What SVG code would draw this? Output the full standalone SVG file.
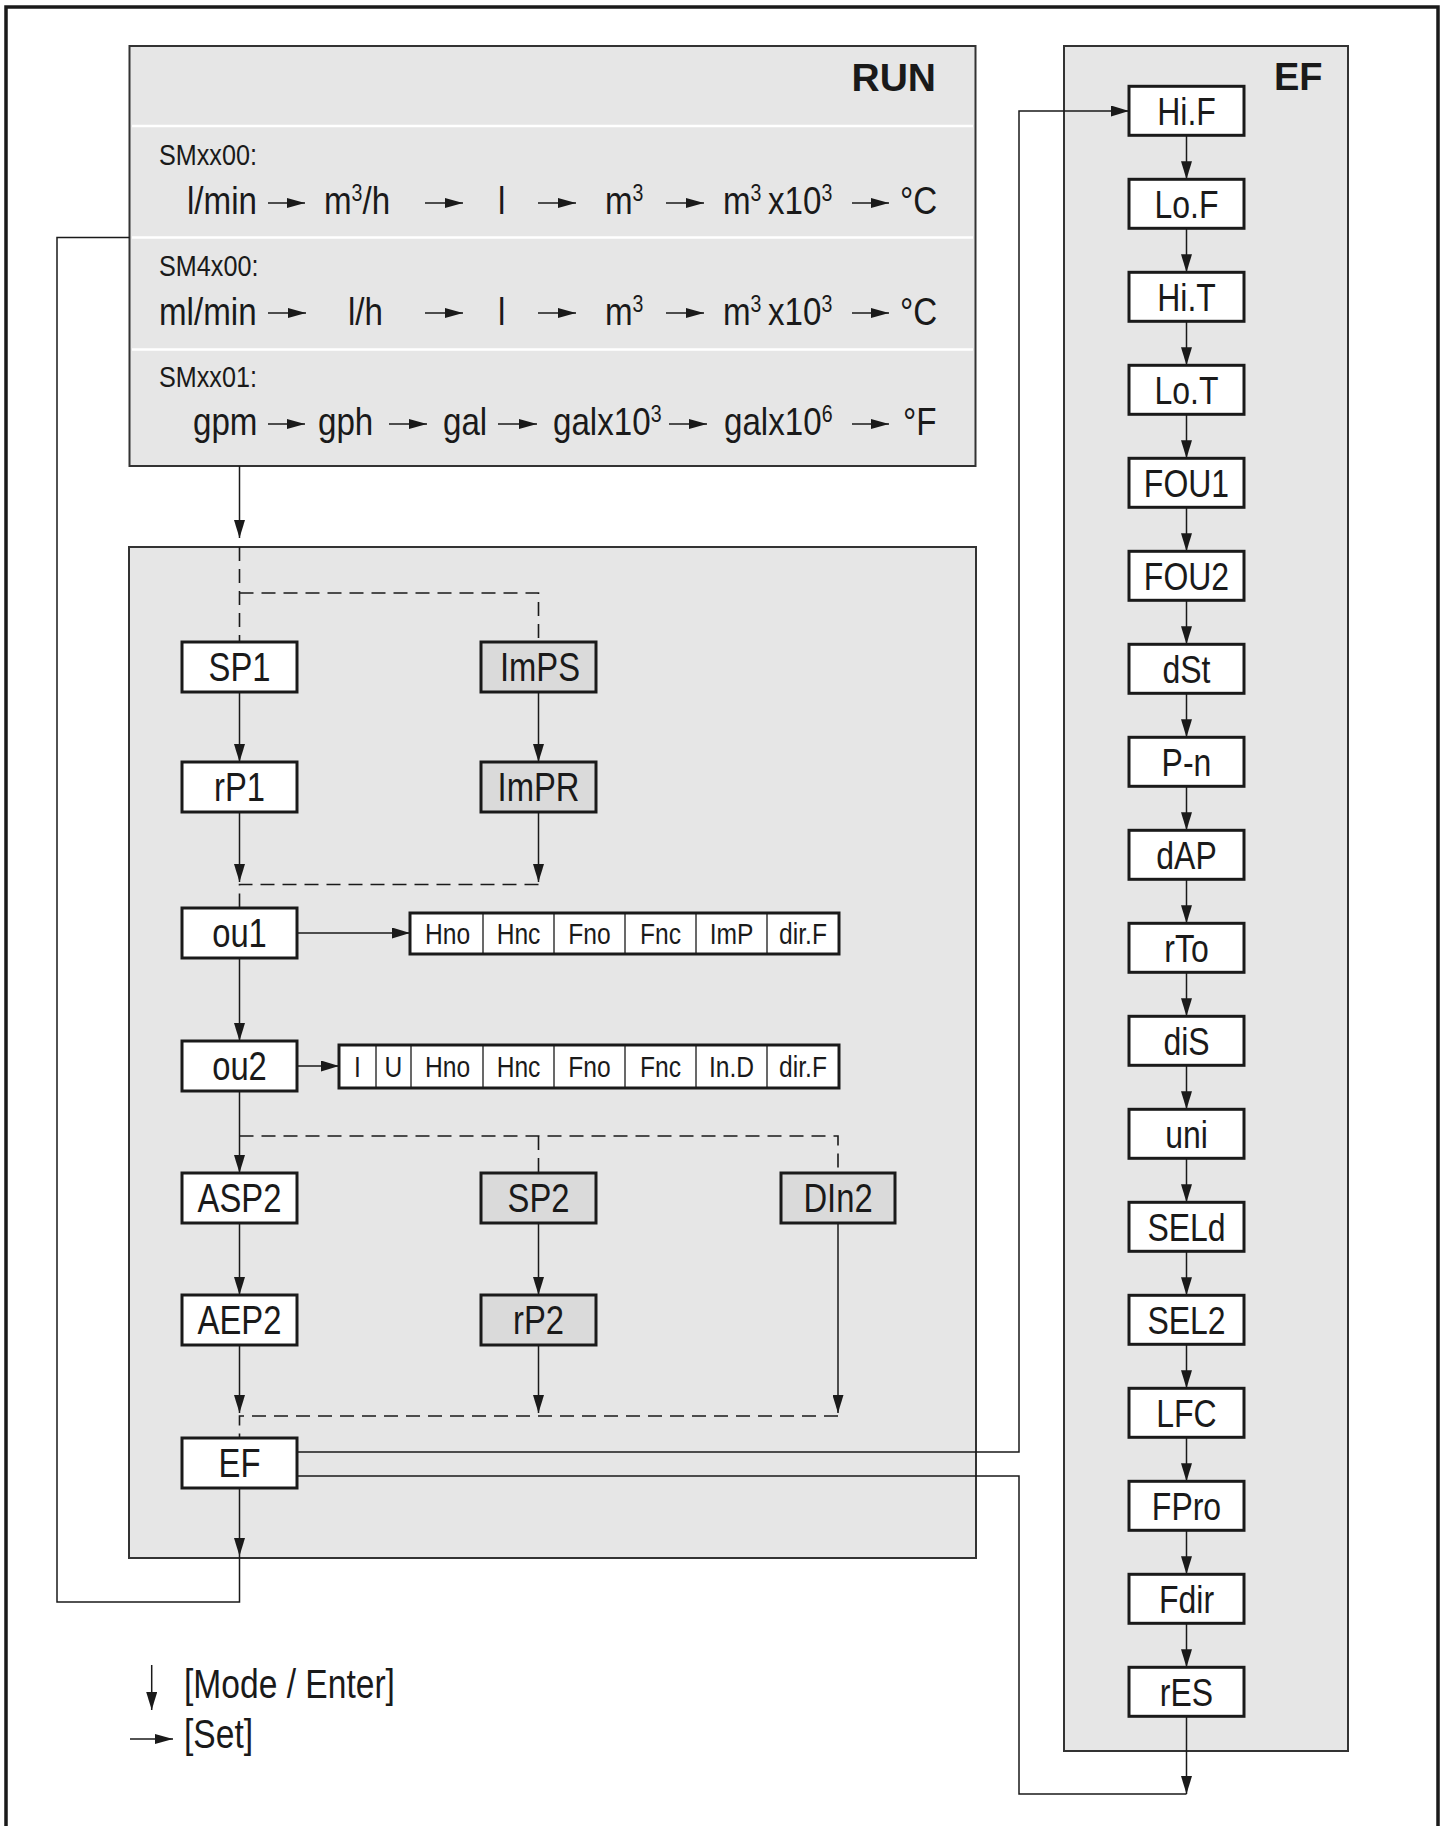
<svg xmlns="http://www.w3.org/2000/svg" width="1447" height="1826" viewBox="0 0 1447 1826">
<defs>
<marker id="a" viewBox="0 0 18 11" refX="18" refY="5.5" markerWidth="18" markerHeight="11" markerUnits="userSpaceOnUse" orient="auto"><path d="M0,0L18,5.5L0,11z" fill="#1a1a1a"/></marker>
<marker id="s" viewBox="0 0 18 10" refX="18" refY="5" markerWidth="18" markerHeight="10" markerUnits="userSpaceOnUse" orient="auto"><path d="M0,0L18,5L0,10z" fill="#1a1a1a"/></marker>
</defs>
<style>
.t{font-family:"Liberation Sans",Arial,sans-serif;font-size:40px;fill:#1a1a1a}
.e{font-size:39px}
.r{font-size:39px}
.sm{font-size:30px}
.li{font-size:30px}
.sup{font-size:23px}
.c{text-anchor:middle}
.b{font-family:"Liberation Sans",Arial,sans-serif;font-weight:bold;fill:#1a1a1a}
.node rect{fill:#fff;stroke:#1a1a1a;stroke-width:3}
.node.g rect{fill:#dadada}
.panel{fill:#e6e6e6;stroke:#333;stroke-width:2}
.sep{stroke:#fff;stroke-width:2.5}
.ln{fill:none;stroke:#1a1a1a;stroke-width:1.5}
.ar{fill:none;stroke:#1a1a1a;stroke-width:1.5;marker-end:url(#a)}
.sa{fill:none;stroke:#1a1a1a;stroke-width:1.5;marker-end:url(#s)}
.d{fill:none;stroke:#1a1a1a;stroke-width:1.6;stroke-dasharray:14 8}
.cell{stroke:#1a1a1a;stroke-width:1.3}
.lst{fill:#fff;stroke:#1a1a1a;stroke-width:3}
</style>
<rect x="6" y="7" width="1432" height="1840" fill="none" stroke="#1a1a1a" stroke-width="3.5"/>

<g id="run">
<rect class="panel" x="129.5" y="46" width="846" height="420"/>
<line class="sep" x1="132" y1="126" x2="973" y2="126"/>
<line class="sep" x1="132" y1="237.5" x2="973" y2="237.5"/>
<line class="sep" x1="132" y1="349.5" x2="973" y2="349.5"/>
<text class="b" x="936" y="91" font-size="39" text-anchor="end">RUN</text>
<text class="t sm" transform="translate(159,165) scale(.84,1)">SMxx00:</text>
<text class="t sm" transform="translate(159,276) scale(.84,1)">SM4x00:</text>
<text class="t sm" transform="translate(159,387) scale(.84,1)">SMxx01:</text>

<text class="t r" transform="translate(187,214) scale(.85,1)">l/min</text>
<text class="t r" transform="translate(324,214) scale(.85,1)">m<tspan class="sup" dy="-13">3</tspan><tspan dy="13">/h</tspan></text>
<text class="t r" transform="translate(498,214) scale(.85,1)">l</text>
<text class="t r" transform="translate(605,214) scale(.85,1)">m<tspan class="sup" dy="-13">3</tspan></text>
<text class="t r" transform="translate(723,214) scale(.85,1)">m<tspan class="sup" dy="-13">3</tspan><tspan x="53" dy="13">x10</tspan><tspan class="sup" dy="-13">3</tspan></text>
<text class="t r" transform="translate(900,214) scale(.85,1)">°C</text>

<text class="t r" transform="translate(159,325) scale(.85,1)">ml/min</text>
<text class="t r" transform="translate(348,325) scale(.85,1)">l/h</text>
<text class="t r" transform="translate(498,325) scale(.85,1)">l</text>
<text class="t r" transform="translate(605,325) scale(.85,1)">m<tspan class="sup" dy="-13">3</tspan></text>
<text class="t r" transform="translate(723,325) scale(.85,1)">m<tspan class="sup" dy="-13">3</tspan><tspan x="53" dy="13">x10</tspan><tspan class="sup" dy="-13">3</tspan></text>
<text class="t r" transform="translate(900,325) scale(.85,1)">°C</text>

<text class="t r" transform="translate(193,435) scale(.85,1)">gpm</text>
<text class="t r" transform="translate(318,435) scale(.85,1)">gph</text>
<text class="t r" transform="translate(443,435) scale(.85,1)">gal</text>
<text class="t r" transform="translate(553,435) scale(.85,1)">galx10<tspan class="sup" dy="-13">3</tspan></text>
<text class="t r" transform="translate(724,435) scale(.85,1)">galx10<tspan class="sup" dy="-13">6</tspan></text>
<text class="t r" transform="translate(903,435) scale(.85,1)">°F</text>

<path class="sa" d="M268,203H305"/><path class="sa" d="M425,203H463"/><path class="sa" d="M538,203H576"/><path class="sa" d="M666,203H704"/><path class="sa" d="M852,203H889"/>
<path class="sa" d="M268,313H306"/><path class="sa" d="M425,313H463"/><path class="sa" d="M538,313H576"/><path class="sa" d="M666,313H704"/><path class="sa" d="M852,313H889"/>
<path class="sa" d="M268,424H305"/><path class="sa" d="M389,424H427"/><path class="sa" d="M498,424H537"/><path class="sa" d="M669,424H707"/><path class="sa" d="M852,424H889"/>
</g>

<rect id="menu-panel" class="panel" x="129" y="547" width="847" height="1011"/>
<rect id="ef-panel" class="panel" x="1064" y="46" width="284" height="1705"/>
<text class="b" x="1274" y="90" font-size="38">EF</text>

<g id="connectors">
<path class="ar" d="M239.5,466V538"/>
<path class="d" d="M239.5,547V642M239.5,593H538.5V642"/>
<path class="ar" d="M239.5,692V762"/>
<path class="ar" d="M538.5,692V762"/>
<path class="ar" d="M239.5,812V882"/>
<path class="ar" d="M538.5,812V882"/>
<path class="d" d="M538.5,884.5H239.5V908"/>
<path class="ar" d="M297,933H410"/>
<path class="ar" d="M239.5,958V1041"/>
<path class="ar" d="M297,1066H339"/>
<path class="ar" d="M239.5,1091V1173"/>
<path class="d" d="M239.5,1136H838V1173M538.5,1136V1173"/>
<path class="ar" d="M239.5,1223V1295"/>
<path class="ar" d="M538.5,1223V1295"/>
<path class="ar" d="M239.5,1345V1413"/>
<path class="ar" d="M538.5,1345V1413"/>
<path class="ar" d="M838,1223V1413"/>
<path class="d" d="M838,1416H239.5V1438"/>
<path class="ar" d="M239.5,1488V1556"/>
<path class="ln" d="M239.5,1556V1602H57V237.5H129.5"/>
<path class="ar" d="M297,1452H1019V111H1129"/>
<path class="ln" d="M297,1476H1019V1794H1186.5"/>
<path class="ar" d="M1186.5,135.3V179.3"/>
<path class="ar" d="M1186.5,228.3V272.3"/>
<path class="ar" d="M1186.5,321.3V365.3"/>
<path class="ar" d="M1186.5,414.3V458.3"/>
<path class="ar" d="M1186.5,507.3V551.3"/>
<path class="ar" d="M1186.5,600.3V644.3"/>
<path class="ar" d="M1186.5,693.3V737.3"/>
<path class="ar" d="M1186.5,786.3V830.3"/>
<path class="ar" d="M1186.5,879.3V923.3"/>
<path class="ar" d="M1186.5,972.3V1016.3"/>
<path class="ar" d="M1186.5,1065.3V1109.3"/>
<path class="ar" d="M1186.5,1158.3V1202.3"/>
<path class="ar" d="M1186.5,1251.3V1295.3"/>
<path class="ar" d="M1186.5,1344.3V1388.3"/>
<path class="ar" d="M1186.5,1437.3V1481.3"/>
<path class="ar" d="M1186.5,1530.3V1574.3"/>
<path class="ar" d="M1186.5,1623.3V1667.3"/>
<path class="ar" d="M1186.5,1716.3V1794"/>
</g>

<g id="SP1" class="node"><rect x="182" y="642" width="115" height="50"/><text class="t c" transform="translate(239.5,680.5) scale(.82,1)">SP1</text></g>
<g id="ImPS" class="node g"><rect x="481" y="642" width="115" height="50"/><text class="t c" transform="translate(540,680.5) scale(.82,1)">ImPS</text></g>
<g id="rP1" class="node"><rect x="182" y="762" width="115" height="50"/><text class="t c" transform="translate(239.5,800.5) scale(.82,1)">rP1</text></g>
<g id="ImPR" class="node g"><rect x="481" y="762" width="115" height="50"/><text class="t c" transform="translate(538.5,800.5) scale(.82,1)">ImPR</text></g>
<g id="ou1" class="node"><rect x="182" y="908" width="115" height="50"/><text class="t c" transform="translate(239.5,946.5) scale(.82,1)">ou1</text></g>
<g id="ou1-list">
<rect class="lst" x="410" y="913" width="429" height="41"/>
<path class="cell" d="M483,913V954M554,913V954M625,913V954M696,913V954M767,913V954"/>
<text class="t li c" transform="translate(447.5,944) scale(.82,1)">Hno</text>
<text class="t li c" transform="translate(518.5,944) scale(.82,1)">Hnc</text>
<text class="t li c" transform="translate(589.5,944) scale(.82,1)">Fno</text>
<text class="t li c" transform="translate(660.5,944) scale(.82,1)">Fnc</text>
<text class="t li c" transform="translate(731.5,944) scale(.82,1)">ImP</text>
<text class="t li c" transform="translate(803,944) scale(.82,1)">dir.F</text>
</g>
<g id="ou2" class="node"><rect x="182" y="1041" width="115" height="50"/><text class="t c" transform="translate(239.5,1079.5) scale(.82,1)">ou2</text></g>
<g id="ou2-list">
<rect class="lst" x="339" y="1045" width="500" height="43"/>
<path class="cell" d="M376,1045V1088M411,1045V1088M483,1045V1088M554,1045V1088M625,1045V1088M696,1045V1088M767,1045V1088"/>
<text class="t li c" transform="translate(357.5,1077) scale(.82,1)">I</text>
<text class="t li c" transform="translate(393.5,1077) scale(.82,1)">U</text>
<text class="t li c" transform="translate(447.5,1077) scale(.82,1)">Hno</text>
<text class="t li c" transform="translate(518.5,1077) scale(.82,1)">Hnc</text>
<text class="t li c" transform="translate(589.5,1077) scale(.82,1)">Fno</text>
<text class="t li c" transform="translate(660.5,1077) scale(.82,1)">Fnc</text>
<text class="t li c" transform="translate(731.5,1077) scale(.82,1)">In.D</text>
<text class="t li c" transform="translate(803,1077) scale(.82,1)">dir.F</text>
</g>
<g id="ASP2" class="node"><rect x="182" y="1173" width="115" height="50"/><text class="t c" transform="translate(239.5,1211.5) scale(.82,1)">ASP2</text></g>
<g id="SP2" class="node g"><rect x="481" y="1173" width="115" height="50"/><text class="t c" transform="translate(538.5,1211.5) scale(.82,1)">SP2</text></g>
<g id="DIn2" class="node g"><rect x="781" y="1173" width="114" height="50"/><text class="t c" transform="translate(838,1211.5) scale(.82,1)">DIn2</text></g>
<g id="AEP2" class="node"><rect x="182" y="1295" width="115" height="50"/><text class="t c" transform="translate(239.5,1333.5) scale(.82,1)">AEP2</text></g>
<g id="rP2" class="node g"><rect x="481" y="1295" width="115" height="50"/><text class="t c" transform="translate(538.5,1333.5) scale(.82,1)">rP2</text></g>
<g id="EF" class="node"><rect x="182" y="1438" width="115" height="50"/><text class="t c" transform="translate(239.5,1476.5) scale(.82,1)">EF</text></g>

<g id="HiF" class="node"><rect x="1129" y="86.3" width="115" height="49"/><text class="t e c" transform="translate(1186.5,125) scale(.82,1)">Hi.F</text></g>
<g id="LoF" class="node"><rect x="1129" y="179.3" width="115" height="49"/><text class="t e c" transform="translate(1186.5,218) scale(.82,1)">Lo.F</text></g>
<g id="HiT" class="node"><rect x="1129" y="272.3" width="115" height="49"/><text class="t e c" transform="translate(1186.5,311) scale(.82,1)">Hi.T</text></g>
<g id="LoT" class="node"><rect x="1129" y="365.3" width="115" height="49"/><text class="t e c" transform="translate(1186.5,404) scale(.82,1)">Lo.T</text></g>
<g id="FOU1" class="node"><rect x="1129" y="458.3" width="115" height="49"/><text class="t e c" transform="translate(1186.5,497) scale(.82,1)">FOU1</text></g>
<g id="FOU2" class="node"><rect x="1129" y="551.3" width="115" height="49"/><text class="t e c" transform="translate(1186.5,590) scale(.82,1)">FOU2</text></g>
<g id="dSt" class="node"><rect x="1129" y="644.3" width="115" height="49"/><text class="t e c" transform="translate(1186.5,683) scale(.82,1)">dSt</text></g>
<g id="P-n" class="node"><rect x="1129" y="737.3" width="115" height="49"/><text class="t e c" transform="translate(1186.5,776) scale(.82,1)">P-n</text></g>
<g id="dAP" class="node"><rect x="1129" y="830.3" width="115" height="49"/><text class="t e c" transform="translate(1186.5,869) scale(.82,1)">dAP</text></g>
<g id="rTo" class="node"><rect x="1129" y="923.3" width="115" height="49"/><text class="t e c" transform="translate(1186.5,962) scale(.82,1)">rTo</text></g>
<g id="diS" class="node"><rect x="1129" y="1016.3" width="115" height="49"/><text class="t e c" transform="translate(1186.5,1055) scale(.82,1)">diS</text></g>
<g id="uni" class="node"><rect x="1129" y="1109.3" width="115" height="49"/><text class="t e c" transform="translate(1186.5,1148) scale(.82,1)">uni</text></g>
<g id="SELd" class="node"><rect x="1129" y="1202.3" width="115" height="49"/><text class="t e c" transform="translate(1186.5,1241) scale(.82,1)">SELd</text></g>
<g id="SEL2" class="node"><rect x="1129" y="1295.3" width="115" height="49"/><text class="t e c" transform="translate(1186.5,1334) scale(.82,1)">SEL2</text></g>
<g id="LFC" class="node"><rect x="1129" y="1388.3" width="115" height="49"/><text class="t e c" transform="translate(1186.5,1427) scale(.82,1)">LFC</text></g>
<g id="FPro" class="node"><rect x="1129" y="1481.3" width="115" height="49"/><text class="t e c" transform="translate(1186.5,1520) scale(.82,1)">FPro</text></g>
<g id="Fdir" class="node"><rect x="1129" y="1574.3" width="115" height="49"/><text class="t e c" transform="translate(1186.5,1613) scale(.82,1)">Fdir</text></g>
<g id="rES" class="node"><rect x="1129" y="1667.3" width="115" height="49"/><text class="t e c" transform="translate(1186.5,1706) scale(.82,1)">rES</text></g>

<g id="legend">
<path class="ar" d="M151.7,1665V1710"/>
<path class="sa" d="M130,1739H173"/>
<text class="t" transform="translate(184,1698) scale(.84,1)">[Mode / Enter]</text>
<text class="t" transform="translate(184,1748) scale(.84,1)">[Set]</text>
</g>
</svg>
